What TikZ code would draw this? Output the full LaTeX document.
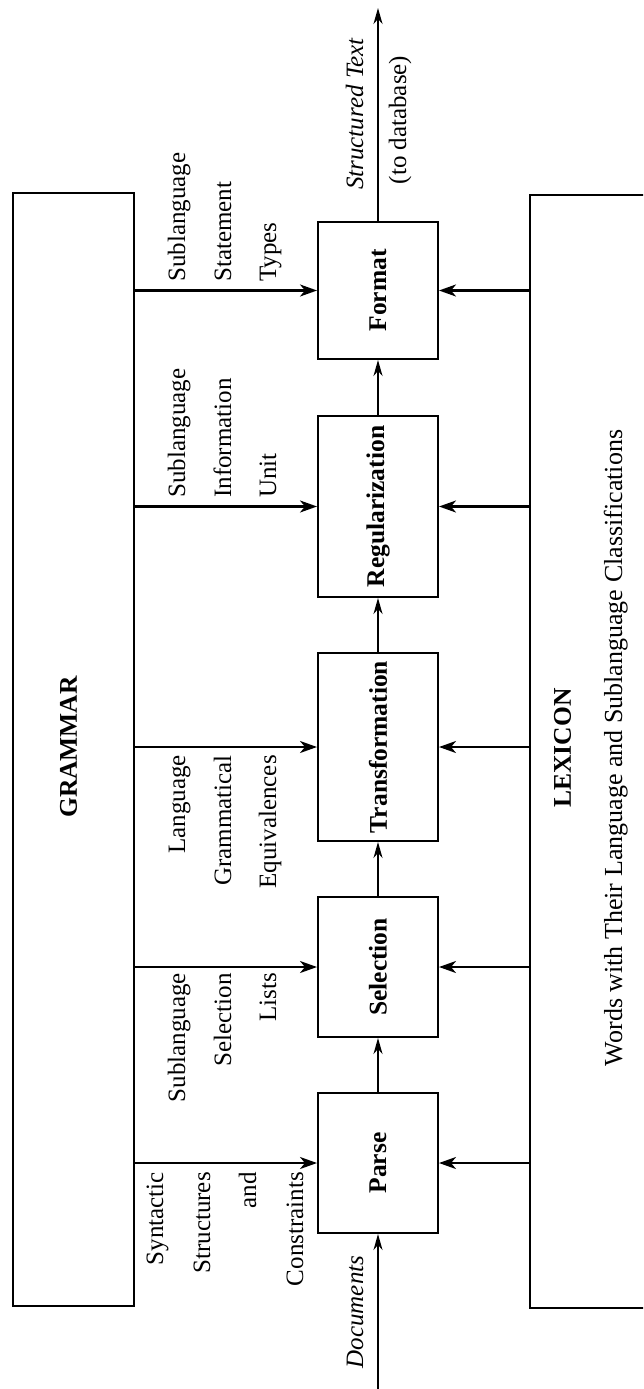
\documentclass[tikz,border=0pt]{standalone}
\usepackage{fontspec}
\setmainfont{Liberation Serif}
\usepackage{graphicx}
\usetikzlibrary{arrows.meta}
\begin{document}
\begin{tikzpicture}[x=1pt,y=-1pt,
  frame/.style={draw, line width=2pt, inner sep=0pt},
  proc/.style={frame, minimum width=120pt, font=\fontsize{25.5}{30}\selectfont\bfseries},
  lbl/.style={rotate=90, inner sep=0pt, font=\fontsize{25}{30}\selectfont},
  ttl/.style={rotate=90, inner sep=0pt, font=\fontsize{25.5}{30}\selectfont\bfseries},
  itl/.style={rotate=90, inner sep=0pt, font=\fontsize{25}{30}\selectfont\itshape},
  flow/.style={line width=1.7pt, -{Stealth[length=16pt,width=9pt,inset=5pt]}},
  feed/.style={line width=2.3pt, -{Stealth[length=17pt,width=12pt,inset=5pt]}}]
\useasboundingbox (0,0) rectangle (643,1389);
\fill[white] (0,0) rectangle (643,1389);
\clip (0,0) rectangle (643,1389);

% Grammar and Lexicon
\node[frame, minimum width=121pt, minimum height=1113pt] (G) at (73.5,749.5) {};
\node[frame, minimum width=150pt, minimum height=1113pt] (L) at (605,751.5) {};
\node[ttl] (Gt) at (68.5,747) {GRAMMAR};
\node[ttl] (Lt) at (562.5,748) {LEXICON};
\node[lbl, anchor=base, font=\fontsize{26}{30}\selectfont] (Lw) at (622,748) {Words with Their Language and Sublanguage Classifications};

% process boxes
\node[proc, minimum height=137pt] (F) at (378,290.5) {\rotatebox{90}{Format}};
\node[proc, minimum height=181pt] (R) at (378,506.5) {\rotatebox{90}{Regularization}};
\node[proc, minimum height=188pt] (T) at (378,747) {\rotatebox{90}{Transformation}};
\node[proc, minimum height=140pt] (S) at (378,967) {\rotatebox{90}{Selection}};
\node[proc, minimum height=140pt] (P) at (378,1163) {\rotatebox{90}{Parse}};

% flow
\coordinate (in) at (378,1389);
\coordinate (out) at (378,8);
\draw[flow] (in) -- (P.south);
\draw[flow] (P.north) -- (S.south);
\draw[flow] (S.north) -- (T.south);
\draw[flow] (T.north) -- (R.south);
\draw[flow] (R.north) -- (F.south);
\draw[flow] (F.north) -- (out);

% feeds
\foreach \b in {F,R,T,S,P}{
  \draw[feed] (G.east |- \b.west) -- (\b.west);
  \draw[feed] (L.west |- \b.east) -- (\b.east);
}

% input / output labels
\node[itl, anchor=base] (st) at (363,114) {Structured Text};
\node[lbl, anchor=base] (db) at (406,120) {(to database)};
\node[itl, anchor=base] (doc) at (363,1312) {Documents};

% grammar labels
\node[lbl, anchor=base west] (f1) at (185,282) {Sublanguage};
\node[lbl, anchor=base west] (f2) at (231,282) {Statement};
\node[lbl, anchor=base west] (f3) at (276,282) {Types};

\node[lbl, anchor=base west] (r1) at (185,498) {Sublanguage};
\node[lbl, anchor=base west] (r2) at (231,498) {Information};
\node[lbl, anchor=base west] (r3) at (276,498) {Unit};

\node[lbl, anchor=base east] (t1) at (185,755) {Language};
\node[lbl, anchor=base east] (t2) at (231,755) {Grammatical};
\node[lbl, anchor=base east] (t3) at (276,755) {Equivalences};

\node[lbl, anchor=base east] (s1) at (185,973) {Sublanguage};
\node[lbl, anchor=base east] (s2) at (231,973) {Selection};
\node[lbl, anchor=base east] (s3) at (276,973) {Lists};

\node[lbl, anchor=base east] (p1) at (163,1172) {Syntactic};
\node[lbl, anchor=base east] (p2) at (210,1172) {Structures};
\node[lbl, anchor=base east] (p3) at (256,1172) {and};
\node[lbl, anchor=base east] (p4) at (303,1172) {Constraints};
\end{tikzpicture}
\end{document}
